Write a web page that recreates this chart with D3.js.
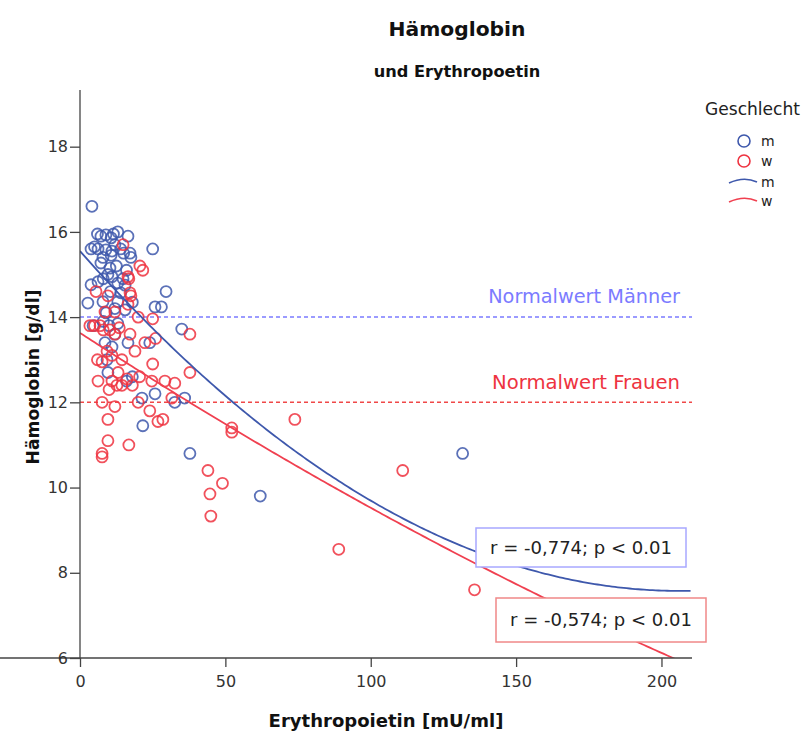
<!DOCTYPE html>
<html><head><meta charset="utf-8">
<script src="https://cdn.jsdelivr.net/npm/d3@7"></script>
<style>body{margin:0;background:#fff;} text{font-family:"DejaVu Sans",Verdana,sans-serif;}</style>
</head><body><svg id="c" width="803" height="731"></svg>
<script>
// Data: Erythropoietin [mU/ml] vs Hämoglobin [g/dl]
const mEpo = [4.1,7.2,8.9,10.7,13,16.5,6,11.5,3.8,6.2,8.9,12,14,17.2,17.5,10.7,7.9,25,5,11,15,7.2,10.3,9.6,6.2,3.8,14.8,13,12.5,16,8,11,15.5,2.7,7.9,13,15.5,14,10.5,29.6,25.8,28,18,9,12,4.5,10,35,8,13,8.6,9.3,16.5,24,12,11,9.6,18,21.3,25.8,32.6,36,16,21.6,37.8,62,131.6];
const mHb  = [16.6,15.9,15.93,15.86,16.0,15.9,15.95,15.95,15.6,15.6,15.58,15.7,15.6,15.5,15.4,15.45,15.4,15.6,15.65,15.55,15.5,15.27,15.15,15.0,14.83,14.76,14.9,14.8,15.2,15.1,14.9,14.95,14.75,14.33,14.36,14.36,14.17,14.57,14.6,14.6,14.24,14.24,14.35,14.1,14.2,13.8,13.8,13.72,13.9,13.85,13.4,13.0,13.4,13.4,13.6,13.3,12.7,12.6,12.1,12.2,12.0,12.1,12.5,11.45,10.8,9.8,10.8];
const wEpo = [14.8,20.6,21.6,16.8,16.5,5.5,9.6,17.5,17.2,8.6,12,20,25,16.5,3.4,5,6.9,8,10.3,12,13.5,17.2,37.8,22.3,18.9,25,14.4,9.3,7.6,6,11,26,6.2,11,12.7,14.4,16.2,13.1,24.7,29.2,32.6,37.8,10,18,20.5,7.6,12,20,24,31.6,26.8,28.5,9.6,9.6,16.8,7.6,7.6,52.2,52.2,73.9,44,44.7,45,49,89,111,135.7];
const wHb  = [15.7,15.2,15.1,14.9,14.95,14.6,14.5,14.5,14.57,14.12,14.12,14.0,13.96,14.3,13.8,13.8,13.8,13.7,13.7,13.6,13.75,13.6,13.6,13.4,13.2,12.9,13.0,13.2,12.95,13.0,13.1,13.5,12.5,12.5,12.4,12.4,12.55,12.7,12.5,12.5,12.45,12.7,12.3,12.4,12.6,12.0,11.9,12.0,11.8,12.1,11.55,11.6,11.6,11.1,11.0,10.8,10.72,11.4,11.3,11.6,10.4,9.85,9.33,10.1,8.55,10.4,7.6];
// quadratic fit coefficients [a, b, c] : Hb = a + b*EPO + c*EPO^2
const fitM = [15.55, -0.0773, 0.0001873];
const fitW = [13.63, -0.04455, 0.000035];
const xTicks = [0,50,100,150,200];
const yTicks = [6,8,10,12,14,16,18];
const normM = 14, normW = 12;
const rM = "r = -0,774; p < 0.01", rW = "r = -0,574; p < 0.01";

const blue = "#3e58ac", red = "#ee3340";
const svg = d3.select("#c");
const L = 80, R = 692, T = 90, B = 658;
const x = d3.scaleLinear().domain([0, 210.5]).range([L, R]);
const y = d3.scaleLinear().domain([6, 19.33]).range([B, T]);

// scale text so that its rendered width matches a target width
function fit(sel, w){
  const l = sel.node().getComputedTextLength();
  const fs = parseFloat(sel.attr("font-size"));
  sel.attr("font-size", (fs*w/l).toFixed(2));
  return sel;
}

svg.append("defs").append("clipPath").attr("id","clip").append("rect")
  .attr("x",L).attr("y",T).attr("width",R-L).attr("height",B-T);

// reference lines
svg.append("line").attr("x1",L).attr("x2",R).attr("y1",y(normM)).attr("y2",y(normM))
  .attr("stroke","#7b7bff").attr("stroke-width",1.5).attr("stroke-dasharray","4,3");
svg.append("line").attr("x1",L).attr("x2",R).attr("y1",y(normW)).attr("y2",y(normW))
  .attr("stroke","#f04848").attr("stroke-width",1.5).attr("stroke-dasharray","4,3");
fit(svg.append("text").attr("x",680).attr("y",y(normM)-14).attr("text-anchor","end")
  .attr("font-size",16).attr("fill","#7b7bff").text("Normalwert Männer"),192);
fit(svg.append("text").attr("x",680).attr("y",y(normW)-13).attr("text-anchor","end")
  .attr("font-size",16).attr("fill","#ee3340").text("Normalwert Frauen"),188);

// points
const g = svg.append("g");
const mPts = mEpo.map((e,i)=>[e,mHb[i]]);
const wPts = wEpo.map((e,i)=>[e,wHb[i]]);
g.selectAll(".m").data(mPts).join("circle").attr("cx",d=>x(d[0])).attr("cy",d=>y(d[1]))
  .attr("r",5.5).attr("fill","none").attr("stroke",blue).attr("stroke-width",1.8).attr("stroke-opacity",0.85);
g.selectAll(".w").data(wPts).join("circle").attr("cx",d=>x(d[0])).attr("cy",d=>y(d[1]))
  .attr("r",5.5).attr("fill","none").attr("stroke",red).attr("stroke-width",1.8).attr("stroke-opacity",0.85);

// fit curves
const xs = d3.range(0, 210.01, 1);
const line = d3.line().x(d=>x(d[0])).y(d=>y(d[1]));
function curve(f){ return xs.map(v=>[v, f[0]+f[1]*v+f[2]*v*v]); }
svg.append("path").attr("d",line(curve(fitM))).attr("fill","none").attr("stroke",blue)
  .attr("stroke-width",1.8).attr("clip-path","url(#clip)");
svg.append("path").attr("d",line(curve(fitW))).attr("fill","none").attr("stroke","#f04050")
  .attr("stroke-width",1.8).attr("clip-path","url(#clip)");

// r boxes
function box(x0,y0,w,h,col,txt){
  svg.append("rect").attr("x",x0).attr("y",y0).attr("width",w).attr("height",h)
    .attr("fill","#fff").attr("stroke",col).attr("stroke-width",1.5);
  fit(svg.append("text").attr("x",x0+w/2).attr("y",y0+h/2+6).attr("text-anchor","middle")
    .attr("font-size",16).attr("fill","#222").text(txt),182);
}
box(476,528,210,39,"#a8a8ff",rM);
box(496,598,210,44,"#f08888",rW);

// axes
const xa = svg.append("g").attr("transform",`translate(0,${B})`)
  .call(d3.axisBottom(x).tickValues(xTicks).tickSize(9).tickPadding(9));
const ya = svg.append("g").attr("transform",`translate(${L},0)`)
  .call(d3.axisLeft(y).tickValues(yTicks).tickSize(10).tickPadding(2));
[xa,ya].forEach(a=>{
  a.select(".domain").attr("stroke","#444").attr("stroke-width",1.3);
  a.selectAll(".tick line").attr("stroke","#444").attr("stroke-width",1.3);
  a.selectAll(".tick text").attr("font-size",16).attr("fill","#333")
    .attr("font-family","'DejaVu Sans',Verdana,sans-serif");
});
ya.select(".domain").attr("d",`M0,${T}V${B}`);
xa.select(".domain").attr("d",`M0,0H${R}`);

// titles
fit(svg.append("text").attr("x",457).attr("y",36).attr("text-anchor","middle")
  .attr("font-size",17).attr("font-weight","bold").attr("fill","#111").text("Hämoglobin"),137);
fit(svg.append("text").attr("x",457).attr("y",77).attr("text-anchor","middle")
  .attr("font-size",13).attr("font-weight","bold").attr("fill","#111").text("und Erythropoetin"),167);
fit(svg.append("text").attr("x",386).attr("y",727).attr("text-anchor","middle")
  .attr("font-size",17).attr("font-weight","bold").attr("fill","#111").text("Erythropoietin [mU/ml]"),235);
fit(svg.append("text").attr("transform","translate(39,377) rotate(-90)").attr("text-anchor","middle")
  .attr("font-size",17).attr("font-weight","bold").attr("fill","#111").text("Hämoglobin [g/dl]"),175);

// legend
fit(svg.append("text").attr("x",705).attr("y",115).attr("font-size",14).attr("fill","#222").text("Geschlecht"),95);
const leg = [["circle",blue,"m",141],["circle",red,"w",161],["line",blue,"m",181],["line","#f04050","w",200]];
leg.forEach(([t,c,lab,yy])=>{
  if(t==="circle"){
    svg.append("circle").attr("cx",744).attr("cy",yy).attr("r",6).attr("fill","none")
      .attr("stroke",c).attr("stroke-width",1.6);
  } else {
    svg.append("path").attr("d",`M729,${yy+2} Q744,${yy-5} 757,${yy+1}`).attr("fill","none")
      .attr("stroke",c).attr("stroke-width",1.6);
  }
  svg.append("text").attr("x",761).attr("y",yy+(t==="circle"?5:6)).attr("font-size",14).attr("fill","#222").text(lab);
});
</script></body></html>
